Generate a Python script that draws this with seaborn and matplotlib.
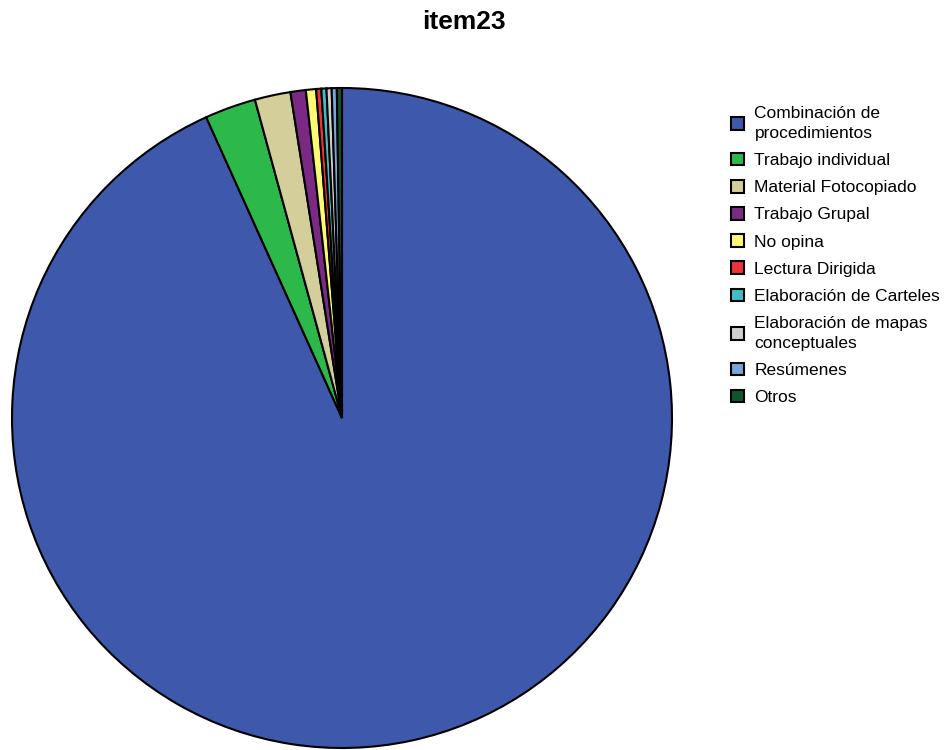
import matplotlib
matplotlib.use("Agg")
import matplotlib.pyplot as plt
from matplotlib.patches import Patch
import seaborn as sns

sns.set_theme(style="white")
plt.rcParams["font.family"] = ["Liberation Sans", "DejaVu Sans"]
plt.rcParams["text.color"] = "black"

title = "item23"
categories = [
    "Combinación de\nprocedimientos",
    "Trabajo individual",
    "Material Fotocopiado",
    "Trabajo Grupal",
    "No opina",
    "Lectura Dirigida",
    "Elaboración de Carteles",
    "Elaboración de mapas\nconceptuales",
    "Resúmenes",
    "Otros",
]
counts = [373, 10, 7, 3, 2, 1, 1, 1, 1, 1]
colors = [
    "#3E58AC", "#2DB84A", "#D3CE9A", "#7A2A84", "#FCFA72",
    "#EE3237", "#3FBFC5", "#CFCFCF", "#78A6D6", "#0F5630",
]

fig = plt.figure(figsize=(9.48, 7.5), dpi=100)
ax = fig.add_axes([12 / 948, 2 / 750, 660 / 948, 660 / 750])
ax.pie(
    counts,
    colors=colors,
    startangle=90,
    counterclock=False,
    wedgeprops=dict(edgecolor="black", linewidth=1.5),
)
ax.set_xlim(-1.0, 1.0)
ax.set_ylim(-1.0, 1.0)
ax.set_aspect("equal")
ax.axis("off")

fig.text(464 / 948, 1 - 29 / 750, title, ha="center", va="baseline",
         fontsize=19, fontweight="bold", color="black")

handles = [Patch(facecolor=c, edgecolor="black", linewidth=1.5) for c in colors]
leg = fig.legend(
    handles, categories,
    loc="upper left",
    bbox_to_anchor=(731 / 948, 1 - 106 / 750),
    frameon=False,
    fontsize=12.5,
    handlelength=0.75,
    handleheight=0.75,
    handletextpad=0.6,
    labelspacing=0.68,
    borderpad=0,
    borderaxespad=0,
)
for t in leg.get_texts():
    t.set_linespacing(1.4)
    t.set_color("black")

fig.savefig("out.png", dpi=100)
